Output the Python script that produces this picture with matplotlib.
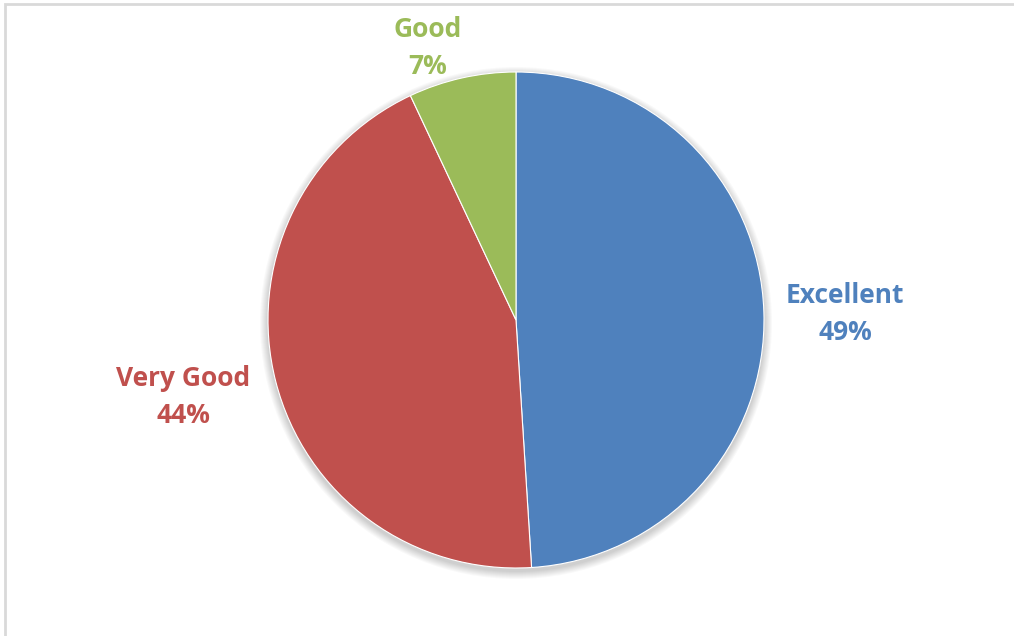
import matplotlib.pyplot as plt
from matplotlib.patches import Circle, Rectangle

# Rating shares
labels = ['Excellent', 'Very Good', 'Good']
shares = [49, 44, 7]
colors = ['#4F81BD', '#C0504D', '#9BBB59']

W, H = 1014, 636
fig = plt.figure(figsize=(W / 100, H / 100), dpi=100)
ax = fig.add_axes([0, 0, 1, 1])

# chart border (cut at right/bottom)
ax.add_patch(Rectangle((5, -10), W + 20, H - 4 + 10, fill=False,
                       edgecolor='#d9d9d9', linewidth=2))

cx, cy, r = 516, H - 320, 248

# soft shadow behind the pie
for i in range(8):
    ax.add_patch(Circle((cx, cy - 3), r + 8 - i, color='black',
                        alpha=0.025, linewidth=0, zorder=1))

ax.pie(shares, colors=colors, startangle=90, counterclock=False,
       center=(cx, cy), radius=r, frame=True,
       wedgeprops=dict(linewidth=0.8, edgecolor='white', zorder=2))
ax.set_xlim(0, W)
ax.set_ylim(0, H)
ax.set_aspect('equal')
ax.axis('off')

label_pos = [(845, 314), (183, 397), (428, 48)]
for lab, v, c, (x, y) in zip(labels, shares, colors, label_pos):
    ax.text(x, H - y, f'{lab}\n{v}%', color=c, fontsize=19, fontweight='bold',
            family='Open Sans', ha='center', va='center', linespacing=1.45, zorder=5)

fig.savefig('out.png', dpi=100)
